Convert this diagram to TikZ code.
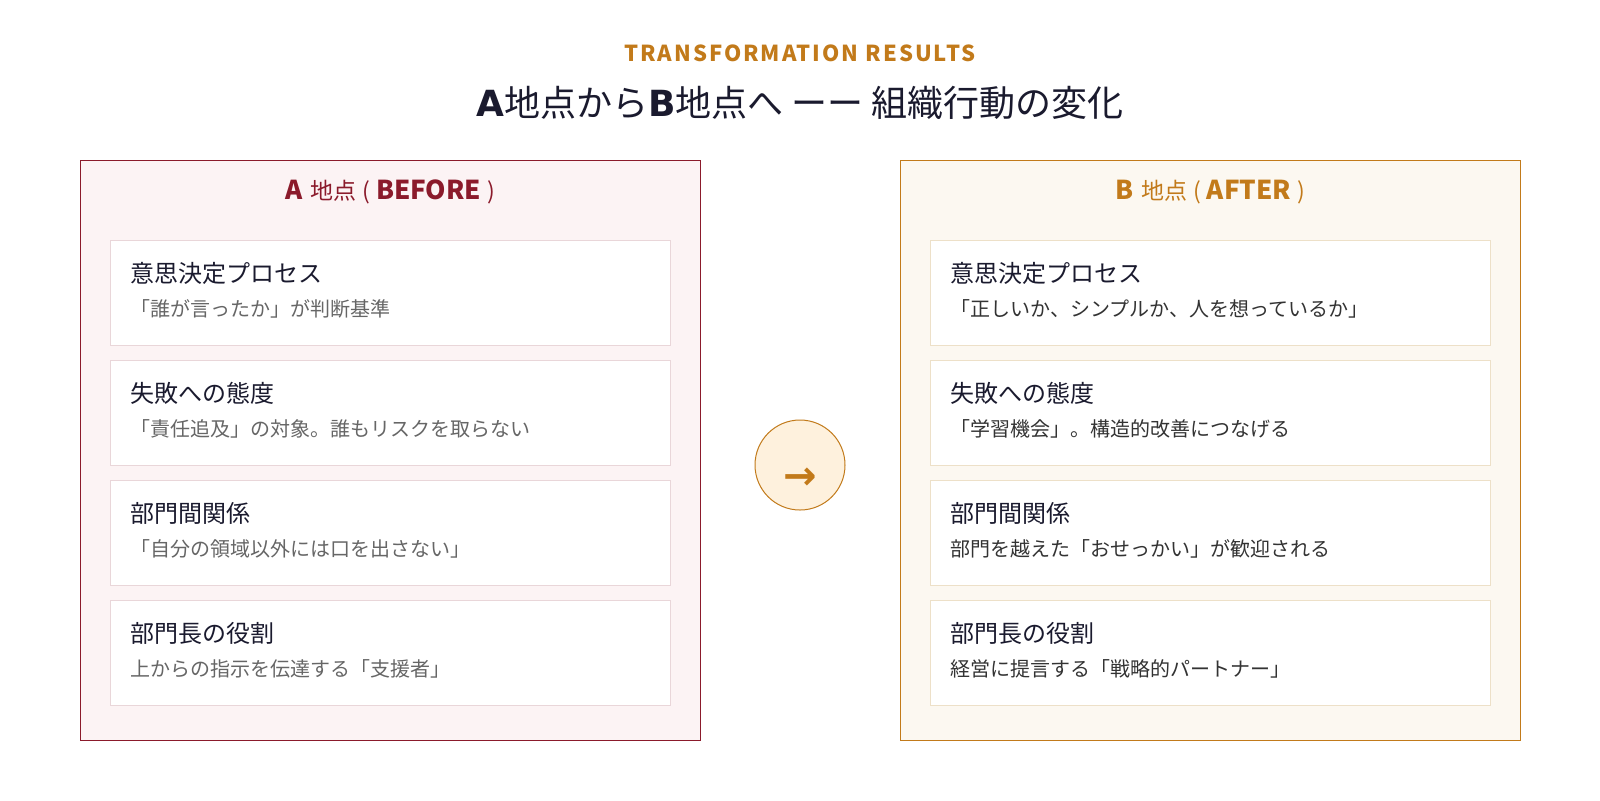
\documentclass[tikz,border=0pt]{standalone}
\usepackage{fontspec}
\setmainfont{Noto Sans CJK JP}
\newfontfamily\dejavu{DejaVu Sans}
\newfontfamily\spaced[LetterSpace=9]{Noto Sans CJK JP}
\definecolor{navy}{HTML}{1A1A2E}
\definecolor{wine}{HTML}{8B1A2B}
\definecolor{amber}{HTML}{C27A1A}
\definecolor{pinkbg}{HTML}{FCF3F4}
\definecolor{creambg}{HTML}{FCF8F1}
\definecolor{pinkline}{HTML}{E9D6D9}
\definecolor{creamline}{HTML}{EDE0C8}
\definecolor{circfill}{HTML}{FEF1DD}
\definecolor{subgray}{HTML}{666666}
\definecolor{subdark}{HTML}{333333}
\tikzset{
  panelA/.style={draw=wine, fill=pinkbg, line width=0.5pt},
  panelB/.style={draw=amber, fill=creambg, line width=0.5pt},
  cardA/.style={draw=pinkline, fill=white, line width=0.5pt},
  cardB/.style={draw=creamline, fill=white, line width=0.5pt},
  cardtitle/.style={anchor=west, inner sep=0pt, text=navy, font=\fontsize{12pt}{14pt}\selectfont},
  subA/.style={anchor=west, inner sep=0pt, text=subgray, font=\fontsize{10pt}{12pt}\selectfont},
  subB/.style={anchor=west, inner sep=0pt, text=subdark, font=\fontsize{10pt}{12pt}\selectfont},
  hdr/.style={inner sep=0pt},
}
\newcommand{\hbig}[1]{{\bfseries\fontsize{13pt}{15pt}\selectfont #1}}
\newcommand{\hsmall}[1]{{\fontsize{11.5pt}{14pt}\selectfont #1}}
\begin{document}
\begin{tikzpicture}[x=0.5pt,y=-0.5pt]
\useasboundingbox (0,0) rectangle (1600,800);
\fill[white] (0,0) rectangle (1600,800);
% titles
\node[hdr, text=amber, font=\spaced\bfseries\fontsize{11pt}{13pt}\selectfont] (kicker) at (800,53) {TRANSFORMATION RESULTS};
\node[hdr, text=navy, font=\fontsize{18pt}{21pt}\selectfont] (title) at (800,103) {{\dejavu\bfseries A}地点から{\dejavu\bfseries B}地点へ ーー 組織行動の変化};
% panels
\draw[panelA] (80,160) rectangle (700,740);
\draw[panelB] (900,160) rectangle (1520,740);
\node[hdr, text=wine] (hA) at (390,192) {\hbig{A}\hspace{4pt}\hsmall{地点}\hspace{3pt}\hsmall{(}\hspace{3pt}\hbig{BEFORE}\hspace{3pt}\hsmall{)}};
\node[hdr, text=amber] (hB) at (1210,192) {\hbig{B}\hspace{4pt}\hsmall{地点}\hspace{3pt}\hsmall{(}\hspace{3pt}\hbig{AFTER}\hspace{3pt}\hsmall{)}};
% left cards
\draw[cardA] (110,240) rectangle (670,345);
\node[cardtitle] (a1t) at (130,273) {意思決定プロセス};
\node[subA] (a1s) at (130,309) {「誰が言ったか」が判断基準};
\draw[cardA] (110,360) rectangle (670,465);
\node[cardtitle] (a2t) at (130,393) {失敗への態度};
\node[subA] (a2s) at (130,429) {「責任追及」の対象。誰もリスクを取らない};
\draw[cardA] (110,480) rectangle (670,585);
\node[cardtitle] (a3t) at (130,513) {部門間関係};
\node[subA] (a3s) at (130,549) {「自分の領域以外には口を出さない」};
\draw[cardA] (110,600) rectangle (670,705);
\node[cardtitle] (a4t) at (130,633) {部門長の役割};
\node[subA] (a4s) at (130,669) {上からの指示を伝達する「支援者」};
% right cards
\draw[cardB] (930,240) rectangle (1490,345);
\node[cardtitle] (b1t) at (950,273) {意思決定プロセス};
\node[subB] (b1s) at (950,309) {「正しいか、シンプルか、人を想っているか」};
\draw[cardB] (930,360) rectangle (1490,465);
\node[cardtitle] (b2t) at (950,393) {失敗への態度};
\node[subB] (b2s) at (950,429) {「学習機会」。構造的改善につなげる};
\draw[cardB] (930,480) rectangle (1490,585);
\node[cardtitle] (b3t) at (950,513) {部門間関係};
\node[subB] (b3s) at (950,549) {部門を越えた「おせっかい」が歓迎される};
\draw[cardB] (930,600) rectangle (1490,705);
\node[cardtitle] (b4t) at (950,633) {部門長の役割};
\node[subB] (b4s) at (950,669) {経営に提言する「戦略的パートナー」};
% circle arrow
\node[circle, draw=amber, fill=circfill, line width=0.5pt, minimum size=45pt, inner sep=0pt] (mid) at (800,465) {};
\node[hdr, text=amber, font=\dejavu\bfseries\fontsize{20pt}{22pt}\selectfont] (arr) at (800,479) {→};
\end{tikzpicture}
\end{document}
